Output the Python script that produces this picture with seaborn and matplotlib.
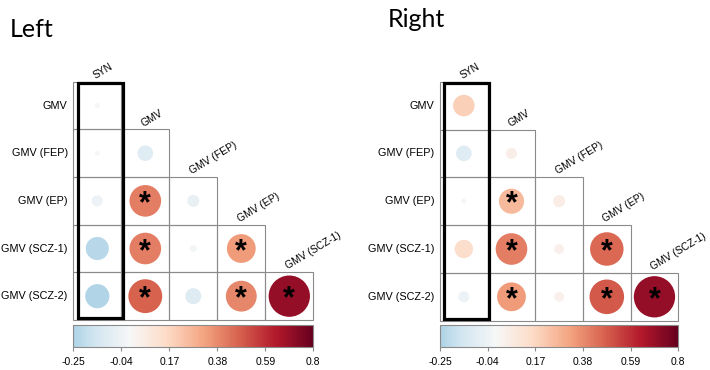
import numpy as np
import pandas as pd
import matplotlib
matplotlib.use("Agg")
import matplotlib.pyplot as plt
import seaborn as sns
from matplotlib.colors import ListedColormap, Normalize
from matplotlib.patches import Rectangle
import matplotlib.cm as cm

# DATA
row_labels = ["GMV", "GMV (FEP)", "GMV (EP)", "GMV (SCZ-1)", "GMV (SCZ-2)"]
col_labels = ["SYN", "GMV", "GMV (FEP)", "GMV (EP)", "GMV (SCZ-1)"]

# lower triangle, one list per row
left_vals = [
    [0.01],
    [-0.01, -0.10],
    [-0.05, 0.41, -0.06],
    [-0.22, 0.41, -0.02, 0.34],
    [-0.24, 0.47, -0.105, 0.39, 0.70],
]
right_vals = [
    [0.19],
    [-0.10, 0.05],
    [0.01, 0.26, 0.06],
    [0.14, 0.41, 0.04, 0.46],
    [-0.05, 0.34, 0.04, 0.49, 0.70],
]
# significant cells (row, col)
signif = [(2, 1), (3, 1), (3, 3), (4, 1), (4, 3), (4, 4)]

cbar_ticks = [-0.25, -0.04, 0.17, 0.38, 0.59, 0.8]
cbar_labels = ["-0.25", "-0.04", "0.17", "0.38", "0.59", "0.8"]

sns.set_style("white")
plt.rcParams["font.family"] = ["Liberation Sans", "DejaVu Sans"]

fig = plt.figure(figsize=(7.1, 3.7), dpi=100)
W, H = 710, 370

norm = Normalize(-0.8, 0.8)
grey = "#8a8a8a"


def to_df(vals):
    rows = []
    for r, line in enumerate(vals):
        for c, v in enumerate(line):
            rows.append({"x": c + 0.5, "y": r + 0.5, "val": v, "absval": abs(v)})
    return pd.DataFrame(rows)


def panel(vals, x0, x1, y0, y1, title, tx, ty):
    ax = fig.add_axes([x0 / W, 1 - y1 / H, (x1 - x0) / W, (y1 - y0) / H])
    n = len(row_labels)
    grid = np.zeros((n, n))
    mask = np.triu(np.ones((n, n), dtype=bool), k=1)
    sns.heatmap(grid, mask=mask, cmap=ListedColormap(["white"]), cbar=False,
                linewidths=0, ax=ax, xticklabels=False, yticklabels=row_labels)

    # thin grey cell borders, lower triangle only
    for r in range(n):
        for c in range(r + 1):
            ax.add_patch(Rectangle((c, r), 1, 1, fill=False, edgecolor=grey,
                                   linewidth=0.8, clip_on=False, zorder=1))

    df = to_df(vals)
    sns.scatterplot(data=df, x="x", y="y", hue="val", palette="RdBu_r",
                    hue_norm=(-0.8, 0.8), size="absval", sizes=(0, 885),
                    size_norm=(0, 0.7), legend=False, linewidth=0, ax=ax,
                    zorder=2)
    ax.set_xlim(0, n)
    ax.set_ylim(n, 0)
    ax.set_xlabel("")
    ax.set_ylabel("")
    ax.tick_params(axis="y", length=0, pad=4, labelsize=7.8, rotation=0,
                   labelcolor="black")
    for s in ax.spines.values():
        s.set_visible(False)

    for (r, c) in signif:
        ax.text(c + 0.5, r + 0.5 + 0.24, "*", ha="center", va="baseline",
                fontsize=22, fontweight="bold", color="black", zorder=3)

    # column labels above the top cell of each column
    for c, lab in enumerate(col_labels):
        ax.text(c + 0.47, c - 0.06, lab, rotation=31, rotation_mode="anchor",
                ha="left", va="baseline", fontsize=7.4, color="black")

    # thick box around the SYN column
    ax.add_patch(Rectangle((0.09, 0.03), 0.94, 4.93, fill=False,
                           edgecolor="black", linewidth=2.3, clip_on=False,
                           zorder=5))

    # colorbar
    cax = fig.add_axes([x0 / W, 1 - 347 / H, (x1 - x0) / W, 22 / H])
    sm = cm.ScalarMappable(norm=norm, cmap="RdBu_r")
    cb = fig.colorbar(sm, cax=cax, orientation="horizontal",
                      boundaries=np.linspace(-0.25, 0.8, 256))
    cb.set_ticks(cbar_ticks)
    cb.set_ticklabels(cbar_labels)
    cb.outline.set_edgecolor(grey)
    cb.outline.set_linewidth(0.8)
    cax.tick_params(labelsize=7.5, length=3, color=grey, pad=4,
                    labelcolor="black")

    fig.text(tx / W, 1 - ty / H, title, fontsize=18, family="Lato",
             ha="left", va="baseline", color="black")


panel(left_vals, 73.3, 313.3, 81.7, 320, "Left", 10, 36.7)
panel(right_vals, 440, 678.3, 81.7, 320.7, "Right", 388, 26.7)

plt.savefig("out.png", dpi=100)
